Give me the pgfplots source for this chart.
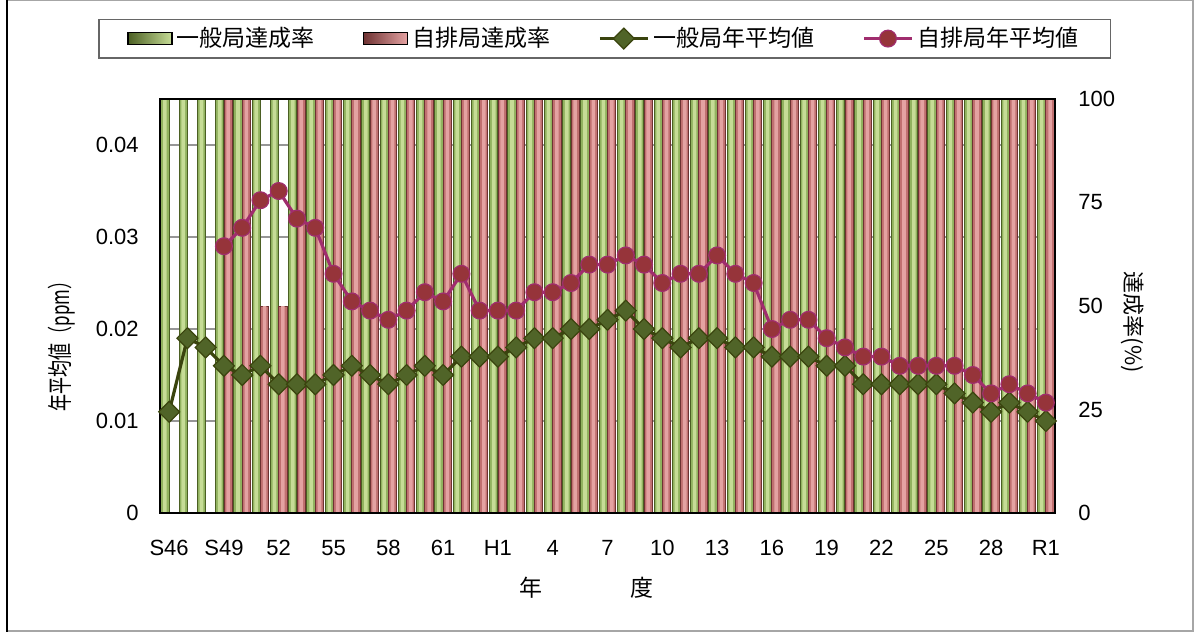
\documentclass[border=0pt]{standalone}
\usepackage{pgfplots}
\usepackage{pgfplotstable}
\pgfplotsset{compat=1.18}
\usepackage{fontspec}
\setmainfont{Liberation Sans}
\newfontfamily\cjk{Noto Sans CJK JP}

\definecolor{gdark}{RGB}{75,95,35}
\definecolor{gmid}{RGB}{145,178,95}
\definecolor{glight}{RGB}{198,220,150}
\definecolor{rdark}{RGB}{110,50,50}
\definecolor{rmid}{RGB}{192,112,112}
\definecolor{rlight}{RGB}{228,162,162}
\definecolor{gline}{RGB}{58,68,14}
\definecolor{gmark}{RGB}{80,100,40}
\definecolor{rline}{RGB}{160,45,110}
\definecolor{rmark}{RGB}{150,52,58}
\definecolor{gridc}{RGB}{150,150,150}

% achievement rate (%)
\pgfplotstableread{
x g r
0 100 nan
1 100 nan
2 100 nan
3 100 100
4 100 100
5 100 50
6 100 50
7 100 100
8 100 100
9 100 100
10 100 100
11 100 100
12 100 100
13 100 100
14 100 100
15 100 100
16 100 100
17 100 100
18 100 100
19 100 100
20 100 100
21 100 100
22 100 100
23 100 100
24 100 100
25 100 100
26 100 100
27 100 100
28 100 100
29 100 100
30 100 100
31 100 100
32 100 100
33 100 100
34 100 100
35 100 100
36 100 100
37 100 100
38 100 100
39 100 100
40 100 100
41 100 100
42 100 100
43 100 100
44 100 100
45 100 100
46 100 100
47 100 100
48 100 100
}\bars

% annual mean, general stations (ppm)
\pgfplotstableread{
x y
0 0.011
1 0.019
2 0.018
3 0.016
4 0.015
5 0.016
6 0.014
7 0.014
8 0.014
9 0.015
10 0.016
11 0.015
12 0.014
13 0.015
14 0.016
15 0.015
16 0.017
17 0.017
18 0.017
19 0.018
20 0.019
21 0.019
22 0.020
23 0.020
24 0.021
25 0.022
26 0.020
27 0.019
28 0.018
29 0.019
30 0.019
31 0.018
32 0.018
33 0.017
34 0.017
35 0.017
36 0.016
37 0.016
38 0.014
39 0.014
40 0.014
41 0.014
42 0.014
43 0.013
44 0.012
45 0.011
46 0.012
47 0.011
48 0.010
}\gen

% annual mean, roadside stations (ppm)
\pgfplotstableread{
x y
3 0.029
4 0.031
5 0.034
6 0.035
7 0.032
8 0.031
9 0.026
10 0.023
11 0.022
12 0.021
13 0.022
14 0.024
15 0.023
16 0.026
17 0.022
18 0.022
19 0.022
20 0.024
21 0.024
22 0.025
23 0.027
24 0.027
25 0.028
26 0.027
27 0.025
28 0.026
29 0.026
30 0.028
31 0.026
32 0.025
33 0.020
34 0.021
35 0.021
36 0.019
37 0.018
38 0.017
39 0.017
40 0.016
41 0.016
42 0.016
43 0.016
44 0.015
45 0.013
46 0.014
47 0.013
48 0.012
}\road

\begin{document}
\begin{tikzpicture}
\useasboundingbox (0,0) rectangle (598.5pt,-316.5pt);
% outer frame
\draw[gray!70, line width=0.6pt] (3.5pt,-0.4pt) -- (596.5pt,-0.4pt) -- (596.5pt,-315.5pt) -- (3.5pt,-315.5pt);
\draw[black, line width=1.3pt] (3.5pt,0pt) -- (3.5pt,-316pt);

\pgfplotsset{
  common/.style={
    at={(80pt,-256.5pt)}, anchor=south west,
    scale only axis, width=447.5pt, height=207pt,
    xmin=-0.5, xmax=48.5,
    major tick length=0pt,
    scaled y ticks=false,
    tick label style={font=\fontsize{11}{13}\selectfont},
  }
}

% axis A: grid, left ticks, x ticks, labels
\begin{axis}[common,
  ymin=0, ymax=0.045,
  axis line style={draw=none},
  xtick={0,3,...,48},
  xticklabels={S46,S49,52,55,58,61,H1,4,7,10,13,16,19,22,25,28,R1},
  ytick={0,0.01,0.02,0.03,0.04},
  yticklabels={0,0.01,0.02,0.03,0.04},
  ymajorgrids, grid style={draw=gridc, line width=0.6pt},
  xticklabel style={inner sep=0pt, anchor=north, yshift=-13.5pt},
  yticklabel style={inner sep=0pt, anchor=east, xshift=-10.5pt},
  clip=false,
]
\node[rotate=90, inner sep=0pt, font=\cjk\fontsize{12.5}{14}\selectfont]
  at (rel axis cs:-0.1095,0.413) {\scalebox{0.68}[1]{年平均値（ppm）}};
\node[inner sep=0pt, font=\cjk\fontsize{11.5}{13}\selectfont]
  at (rel axis cs:0.476,-0.181) {年\hspace{44pt}度};
\end{axis}

% axis B: achievement-rate bars (right axis)
\begin{axis}[common,
  ymin=0, ymax=100,
  axis line style={draw=none},
  xtick=\empty,
  ytick={0,25,50,75,100},
  yticklabels={0,25,50,75,100},
  yticklabel pos=right,
  yticklabel style={inner sep=0pt, anchor=west, xshift=11.5pt},
  clip=false,
]
\addplot[ybar, bar width=4.1pt, bar shift=-2.1pt, fill=gmid, draw=gdark, line width=0.5pt] table[x=x,y=g]{\bars};
\addplot[ybar, bar width=1.8pt, bar shift=-2.1pt, fill=glight, draw=none] table[x=x,y=g]{\bars};
\addplot[ybar, bar width=4.1pt, bar shift=2.1pt, fill=rmid, draw=rdark, line width=0.5pt] table[x=x,y=r]{\bars};
\addplot[ybar, bar width=1.8pt, bar shift=2.1pt, fill=rlight, draw=none] table[x=x,y=r]{\bars};
\node[rotate=-90, inner sep=0pt, font=\cjk\fontsize{11}{13}\selectfont]
  at (rel axis cs:1.087,0.461) {達成率(\%)};
\end{axis}

% axis C: annual means (left axis), frame and legend
\begin{axis}[common,
  ymin=0, ymax=0.045,
  axis line style={black, line width=1.2pt},
  xtick=\empty, ytick=\empty,
  clip=false,
  legend image code/.code={\draw[mark repeat=2,mark phase=2,#1] plot coordinates {(0pt,0pt) (12pt,0pt) (24pt,0pt)};},
  legend style={at={(0.497,1.146)}, anchor=center, legend columns=4,
    draw=gray!80!black, line width=0.8pt, fill=white,
    font=\cjk\fontsize{11.5}{13}\selectfont,
    inner xsep=14pt, inner ysep=2pt,
    /tikz/every even column/.append style={column sep=22pt}},
]
\addlegendimage{legend image code/.code={\fill[left color=gdark, right color=glight] (0pt,-3pt) rectangle (22pt,3pt);}}
\addlegendentry{一般局達成率}
\addlegendimage{legend image code/.code={\fill[left color=rdark, right color=rlight] (0pt,-3pt) rectangle (22pt,3pt);}}
\addlegendentry{自排局達成率}
\addplot[gline, line width=1.6pt, mark=square*, mark size=3.7pt,
  mark options={rotate=45, fill=gmark, draw=gline, line width=0.6pt}] table[x=x,y=y]{\gen};
\addlegendentry{一般局年平均値}
\addplot[rline, line width=1.6pt, mark=*, mark size=4.2pt,
  mark options={fill=rmark, draw=rline, line width=0.6pt}] table[x=x,y=y]{\road};
\addlegendentry{自排局年平均値}
\end{axis}
\end{tikzpicture}
\end{document}
